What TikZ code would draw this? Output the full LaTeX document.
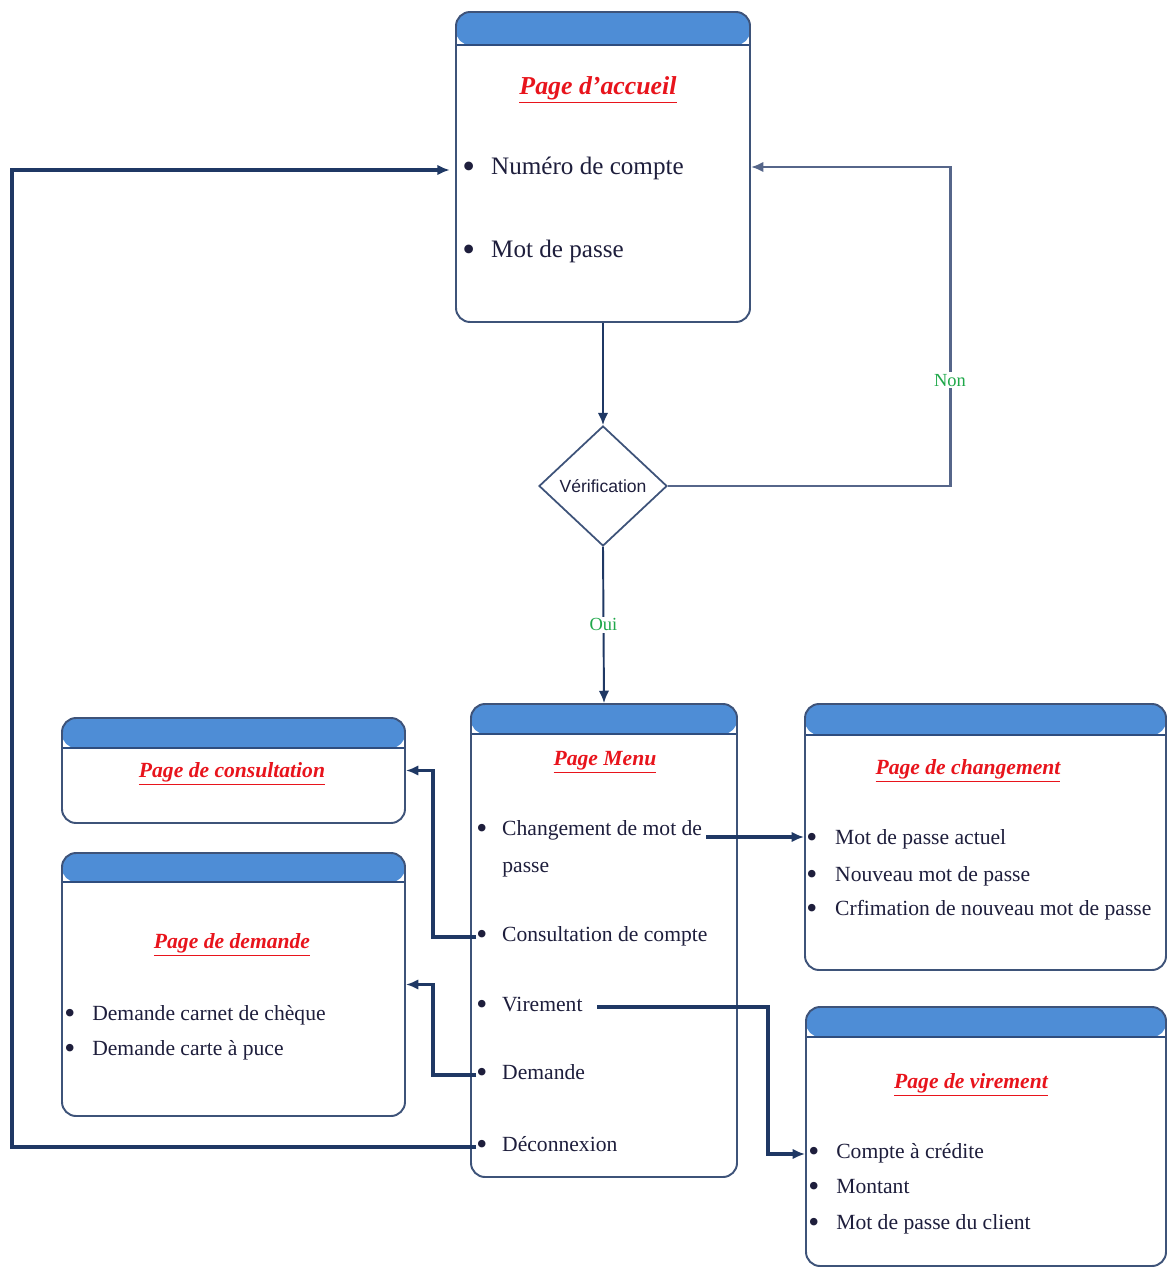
\documentclass[tikz,border=0pt]{standalone}
\usepackage{fontspec}
\setmainfont{Liberation Serif}
\newfontfamily\sansf{Liberation Sans}
\usetikzlibrary{shapes.geometric,arrows.meta}
\definecolor{headblue}{HTML}{4E8DD6}
\definecolor{headline}{HTML}{2F4D7E}
\definecolor{frame}{HTML}{3E5379}
\definecolor{navy}{HTML}{1F3864}
\definecolor{ink}{HTML}{1E1E3C}
\definecolor{titred}{HTML}{E8141C}
\definecolor{okgreen}{HTML}{1FA84A}
\definecolor{grayblue}{HTML}{56668A}
\newlength\pxl \setlength\pxl{0.02cm}
% bullet box: an enlarged bullet, kept on the text's middle line
\newcommand{\bul}[1]{\makebox[#1][l]{\raisebox{-0.13em}{\scalebox{1.45}{\textbullet}}}}
\begin{document}
\begin{tikzpicture}[x=0.02cm,y=-0.02cm,
  page/.style={draw=frame, line width=1.1pt, rounded corners=8pt, fill=white, inner sep=0pt,
    path picture={
      \fill[headblue] (path picture bounding box.north west) rectangle ([yshift=-#1\pxl]path picture bounding box.north east);
      \draw[headline, line width=1.3pt] ([yshift=-#1\pxl]path picture bounding box.north west) -- ([yshift=-#1\pxl]path picture bounding box.north east);
    }},
  title/.style={text=titred, inner sep=1pt, font=\fontsize{12.3}{14}\selectfont\bfseries\itshape},
  item/.style={anchor=west, text=ink, inner sep=0pt, text height=0.75em, text depth=0.2em,
    font=\fontsize{12.3}{14}\selectfont},
  bigitem/.style={item, font=\fontsize{14.3}{16}\selectfont},
  conn/.style={draw=navy, line width=1.8pt, -{Latex[length=7pt,width=6pt]}},
  lbl/.style={fill=white, inner sep=1pt, text=okgreen, font=\fontsize{10.5}{12}\selectfont}
]
\useasboundingbox (0,0) rectangle (1168,1270);

% --- page boxes ---
\node[page=33, minimum width=294\pxl, minimum height=310\pxl] (accueil) at (603,167) {};
\node[page=30, minimum width=266\pxl, minimum height=473\pxl] (menu) at (604,940.5) {};
\node[page=30, minimum width=343\pxl, minimum height=105\pxl] (consult) at (233.5,770.5) {};
\node[page=29, minimum width=343\pxl, minimum height=263\pxl] (demande) at (233.5,984.5) {};
\node[page=31, minimum width=361\pxl, minimum height=266\pxl] (change) at (985.5,837) {};
\node[page=30, minimum width=360\pxl, minimum height=259\pxl] (virement) at (986,1136.5) {};

% --- decision ---
\node[diamond, draw=frame, line width=1pt, minimum width=128\pxl, minimum height=120\pxl,
      inner sep=0pt, text=ink, font=\sansf\fontsize{10}{12}\selectfont] (verif) at (603,486) {Vérification};

% --- login page ---
\node[title, font=\fontsize{14.7}{16}\selectfont\bfseries\itshape] (tacc) at (598,90) {\underline{Page d'accueil}};
\node[bigitem] (num) at (462,170) {\bul{16.4pt}Numéro de compte};
\node[bigitem] (mdp) at (462,253) {\bul{16.4pt}Mot de passe};

% --- menu page ---
\node[title] (tmenu) at (605,762) {\underline{Page Menu}};
\node[item] (chg1) at (476,831) {\bul{14.7pt}Changement de mot de};
\node[item] (chg2) at (502,868) {passe};
\node[item] (cons) at (476,937) {\bul{14.7pt}Consultation de compte};
\node[item] (vir) at (476,1007) {\bul{14.7pt}Virement};
\node[item] (dem) at (476,1075) {\bul{14.7pt}Demande};
\node[item] (dec) at (476,1147) {\bul{14.7pt}Déconnexion};

% --- consultation page ---
\node[title] (tcons) at (232,774) {\underline{Page de consultation}};

% --- request page ---
\node[title] (tdem) at (232,945) {\underline{Page de demande}};
\node[item] (dem1) at (64,1016) {\bul{15.9pt}Demande carnet de chèque};
\node[item] (dem2) at (64,1051) {\bul{15.9pt}Demande carte à puce};

% --- password change page ---
\node[title] (tchg) at (968,771) {\underline{Page de changement}};
\node[item] (mpa) at (806,840) {\bul{16.4pt}Mot de passe actuel};
\node[item] (nmp) at (806,877) {\bul{16.4pt}Nouveau mot de passe};
\node[item] (cnm) at (806,911) {\bul{16.4pt}Crfimation de nouveau mot de passe};

% --- transfer page ---
\node[title] (tvir) at (971,1085) {\underline{Page de virement}};
\node[item] (cac) at (808,1154) {\bul{15.9pt}Compte à crédite};
\node[item] (mnt) at (808,1189) {\bul{15.9pt}Montant};
\node[item] (mdc) at (808,1225) {\bul{15.9pt}Mot de passe du client};

% --- routing points ---
\coordinate (nonturn) at (950,167);
\coordinate (jl) at (433,0);
\coordinate (jr) at (768,0);
\coordinate (jf) at (12,0);
\coordinate (chgout) at (706,837);
\coordinate (virout) at (597,1007);

% --- connectors ---
\draw[conn, line width=1.3pt] (accueil.south) -- (verif.north);
\draw[conn, draw=grayblue, line width=1.7pt] (verif.east) -| node[lbl, pos=0.666] {Non} (nonturn) -- (accueil.east);
\draw[conn, line width=1.1pt] (verif.south) -- node[lbl] {Oui} (menu.north);
\draw[conn] (chgout) -- (change.west |- chgout);
\draw[conn] (cons.west) -- (cons.west -| jl) |- (consult.east);
\draw[conn] (dem.west) -- (dem.west -| jl) |- (demande.east);
\draw[conn] (virout) -| (jr |- cac) -- (virement.west |- cac);
\draw[conn, shorten >=3pt] (dec.west) -| (jf |- num) -- (accueil.west |- num);
\end{tikzpicture}
\end{document}
